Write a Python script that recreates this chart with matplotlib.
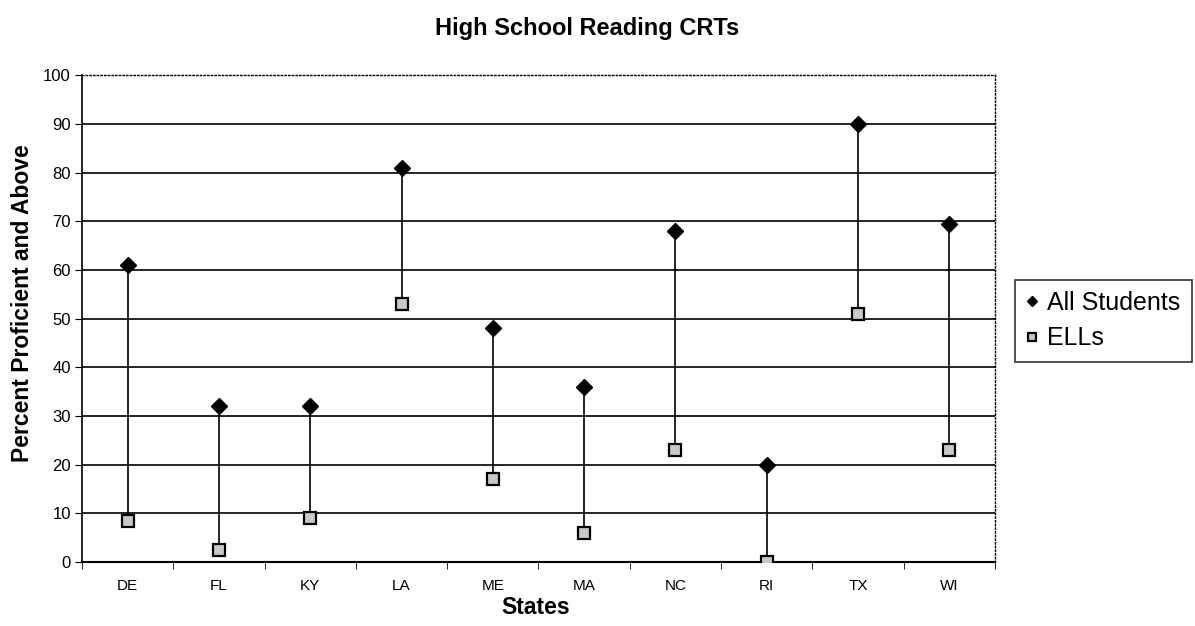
import numpy as np
import matplotlib.pyplot as plt

# data
states = ["DE", "FL", "KY", "LA", "ME", "MA", "NC", "RI", "TX", "WI"]
all_students = [61, 32, 32, 81, 48, 36, 68, 20, 90, 69.5]
ells = [8.5, 2.5, 9, 53, 17, 6, 23, 0, 51, 23]

plt.rcParams["font.family"] = ["Liberation Sans", "DejaVu Sans"]

fig = plt.figure(figsize=(11.95, 6.26), dpi=100)
ax = fig.add_axes([0.0686, 0.1022, 0.7640, 0.7778])

x = np.arange(len(states))

# gridlines
for v in range(10, 100, 10):
    ax.axhline(v, color="black", lw=1.2, zorder=1)

# connecting lines
ax.vlines(x, ells, all_students, color="black", lw=1.2, zorder=2)

ax.plot(x, all_students, linestyle="none", marker="D", markersize=8,
        color="black", label="All Students", zorder=3)
ax.plot(x, ells, linestyle="none", marker="s", markersize=9,
        markerfacecolor="#c8c8c8", markeredgecolor="black", markeredgewidth=1.6,
        label="ELLs", zorder=3)

ax.set_xlim(-0.5, len(states) - 0.5)
ax.set_ylim(0, 100)
ax.set_yticks(np.arange(0, 101, 10))
ax.set_xticks(x)
ax.set_xticklabels(states, fontsize=11,
                   family=["Liberation Sans Narrow", "Liberation Sans"])
ax.set_xticks(np.arange(-0.5, len(states), 1), minor=True)
ax.tick_params(axis="x", which="major", length=0, pad=12)
ax.tick_params(axis="x", which="minor", length=5, direction="out")
ax.tick_params(axis="y", length=5, direction="out", labelsize=12, pad=3)

ax.spines["top"].set_linestyle(":")
ax.spines["right"].set_linestyle(":")
ax.spines["top"].set_linewidth(1)
ax.spines["right"].set_linewidth(1)
ax.spines["left"].set_linewidth(1.2)
ax.spines["bottom"].set_linewidth(1.5)

fig.text(0.491, 1 - 28 / 626, "High School Reading CRTs", fontsize=17,
         fontweight="bold", ha="center", va="center")
fig.text(0.448, 1 - 607 / 626, "States", fontsize=16.5,
         fontweight="bold", ha="center", va="center")
fig.text(0.019, 1 - 303 / 626, "Percent Proficient and Above", fontsize=16.5,
         fontweight="bold", rotation=90, ha="center", va="center")

leg = fig.legend(loc="upper left", bbox_to_anchor=(0.849, 0.553), fontsize=18,
                 frameon=True, fancybox=False, edgecolor="black",
                 handlelength=0.5, handletextpad=0.35, markerscale=0.65,
                 borderpad=0.45, borderaxespad=0, labelspacing=0.45)
leg.get_frame().set_linewidth(1.2)

fig.savefig("out.png", dpi=100)
